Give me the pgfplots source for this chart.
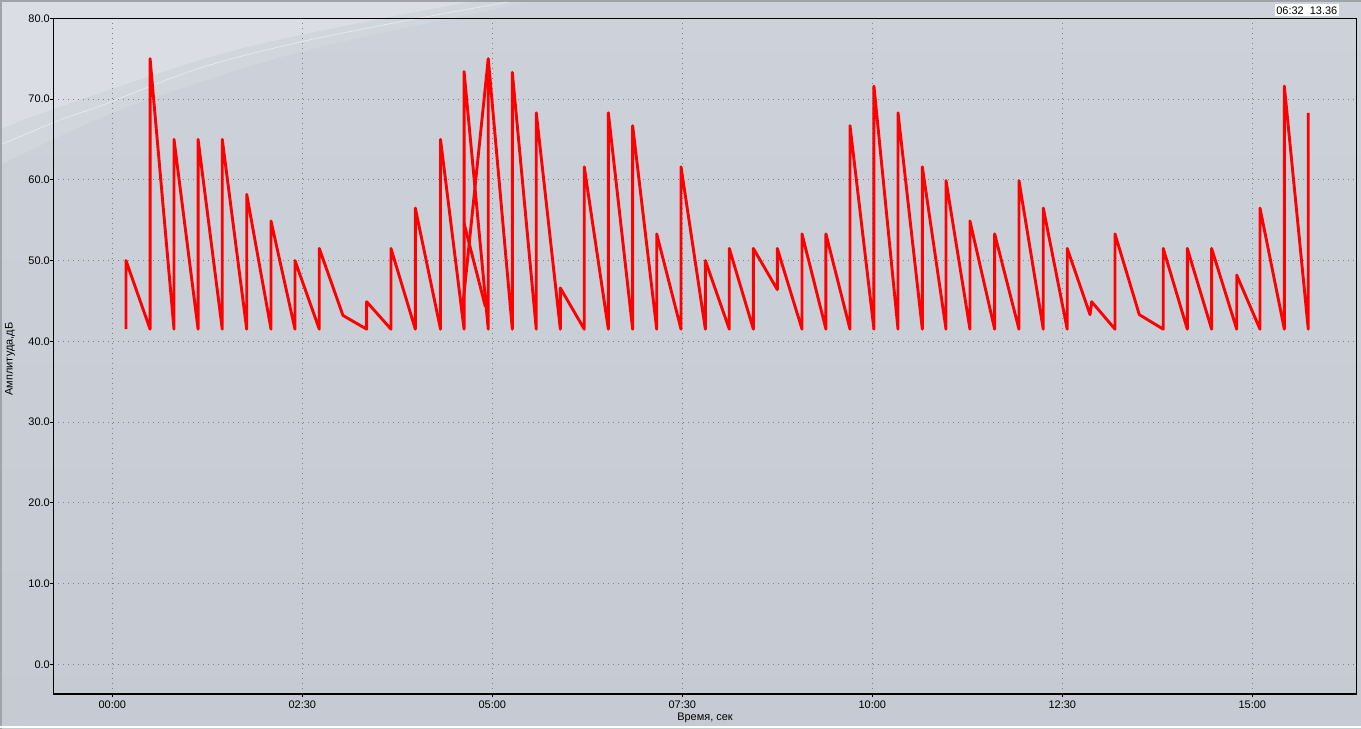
\documentclass[border=0pt]{standalone}
\usepackage{pgfplots}
\pgfplotsset{compat=1.18}
\usepackage{fontspec}
\setmainfont{Liberation Sans}

\definecolor{bgtop}{HTML}{CDD1D9}
\definecolor{bgbot}{HTML}{C6CAD2}
\definecolor{glowmid}{HTML}{D1D5DC}
\definecolor{glowhi}{HTML}{DADEE4}
\definecolor{gridgray}{HTML}{808080}
\definecolor{framegray}{HTML}{A0A3A8}

\newcommand{\lbl}{\fontsize{11}{13}\selectfont}

\begin{document}
\begin{tikzpicture}
\useasboundingbox (0,0) rectangle (1361bp,729bp);
% window background with the light swoosh in the upper left
\shade[top color=bgtop, bottom color=bgbot] (0,0) rectangle (1361bp,729bp);
\fill[glowmid] plot[smooth] coordinates {(0,564bp)(100bp,611bp)(200bp,647bp)(300bp,677bp)(420bp,704bp)(540bp,729bp)} -- (0,729bp) -- cycle;
\fill[glowhi] plot[smooth] coordinates {(0,599bp)(23bp,609bp)(100bp,636bp)(200bp,669bp)(277bp,689bp)(400bp,714bp)(480bp,729bp)} -- (0,729bp) -- cycle;
\draw[white, opacity=0.45, line width=0.8bp] plot[smooth] coordinates {(0,584bp)(60bp,609bp)(100bp,623bp)(200bp,661bp)(300bp,687bp)(420bp,711bp)(520bp,729bp)};
\draw[framegray, line width=2.5bp] (0,727.8bp) -- (1361bp,727.8bp);
\draw[framegray, line width=2bp] (1bp,0) -- (1bp,729bp);
\draw[white, line width=1.5bp] (0,2bp) -- (1361bp,2bp);

\begin{axis}[
  at={(53.3bp,35bp)}, anchor=south west, scale only axis,
  width=1303.4bp, height=675.7bp,
  xmin=-46.6, xmax=982.4, ymin=-3.68, ymax=80,
  axis line style={black, line width=1.3bp},
  xtick={0,150,300,450,600,750,900},
  xticklabels={00:00,02:30,05:00,07:30,10:00,12:30,15:00},
  ytick={0,10,...,80},
  yticklabel style={/pgf/number format/.cd, fixed, fixed zerofill, precision=1},
  /pgf/number format/assume math mode=true,
  tick pos=left, tick align=outside,
  major tick length=3.3bp,
  tick style={black, line width=0.8bp},
  grid=major,
  major grid style={gridgray, line width=0.9bp, dash pattern=on 1bp off 4bp},
  tick label style={font=\lbl, inner sep=0pt},
  xticklabel style={yshift=-3bp},
]
\addplot[red, line width=2.9bp, line join=round] coordinates {
(10.8,41.5)(10.8,50.0)
(29.8,41.5)(29.8,75.0)
(48.7,41.5)(48.7,65.0)
(67.7,41.5)(67.7,65.0)
(86.8,41.5)(86.8,65.0)
(106.1,41.5)(106.1,58.2)
(125.3,41.5)(125.3,54.9)
(144.2,41.5)(144.2,50.0)
(163.4,41.5)(163.4,51.5)
(182.1,43.2)
(200.8,41.5)(200.8,44.9)
(220.0,41.5)(220.0,51.5)
(239.2,41.5)(239.2,56.5)
(259.1,41.5)(259.1,65.0)
(277.7,41.5)(277.7,73.4)
(296.8,41.5)(296.8,75.0)
(315.8,41.5)(315.8,73.3)
(334.7,41.5)(334.7,68.3)
(353.7,41.5)(353.7,46.6)
(372.6,41.5)(372.6,61.6)
(391.6,41.5)(391.6,68.3)
(410.8,41.5)(410.8,66.7)
(429.8,41.5)(429.8,53.3)
(449.0,41.5)(449.0,61.6)
(468.2,41.5)(468.2,50.0)
(487.1,41.5)(487.1,51.5)
(506.1,41.5)(506.1,51.5)
(525.0,46.4)(525.0,51.5)
(544.5,41.5)(544.5,53.3)
(563.4,41.5)(563.4,53.3)
(582.4,41.5)(582.4,66.7)
(601.3,41.5)(601.3,71.6)
(620.3,41.5)(620.3,68.3)
(639.5,41.5)(639.5,61.6)
(658.2,41.5)(658.2,59.9)
(677.1,41.5)(677.1,54.9)
(696.6,41.5)(696.6,53.3)
(715.8,41.5)(715.8,59.9)
(735.0,41.5)(735.0,56.5)
(753.9,41.5)(753.9,51.5)
(771.9,43.3)(773.2,44.9)
(791.6,41.5)(791.6,53.3)
(810.8,43.3)
(829.7,41.5)(829.7,51.5)
(848.7,41.5)(848.7,51.5)
(867.9,41.5)(867.9,51.5)
(887.7,41.5)(887.7,48.2)
(906.1,41.5)(906.1,56.5)
(925.3,41.5)(925.3,71.6)
(944.2,41.5)(944.2,68.3)
};
% crossing strokes around 04:40-04:57
\addplot[red, line width=2.9bp, line join=round] coordinates {(277.7,54.6)(294.5,44.3)};
\addplot[red, line width=2.9bp, line join=round] coordinates {(276.1,43.5)(296.8,75.0)};
\end{axis}

\node[rotate=90, font=\lbl] at (10bp,370bp) {Амплитуда,дБ};
\node[anchor=base, font=\lbl] at (705bp,8.3bp) {Время, сек};
\node[fill=white, anchor=north east, font=\lbl, inner xsep=1.5bp, inner ysep=2bp, text height=8bp, text depth=0bp] at (1339bp,725bp) {06:32\ \ 13.36};
\end{tikzpicture}
\end{document}
